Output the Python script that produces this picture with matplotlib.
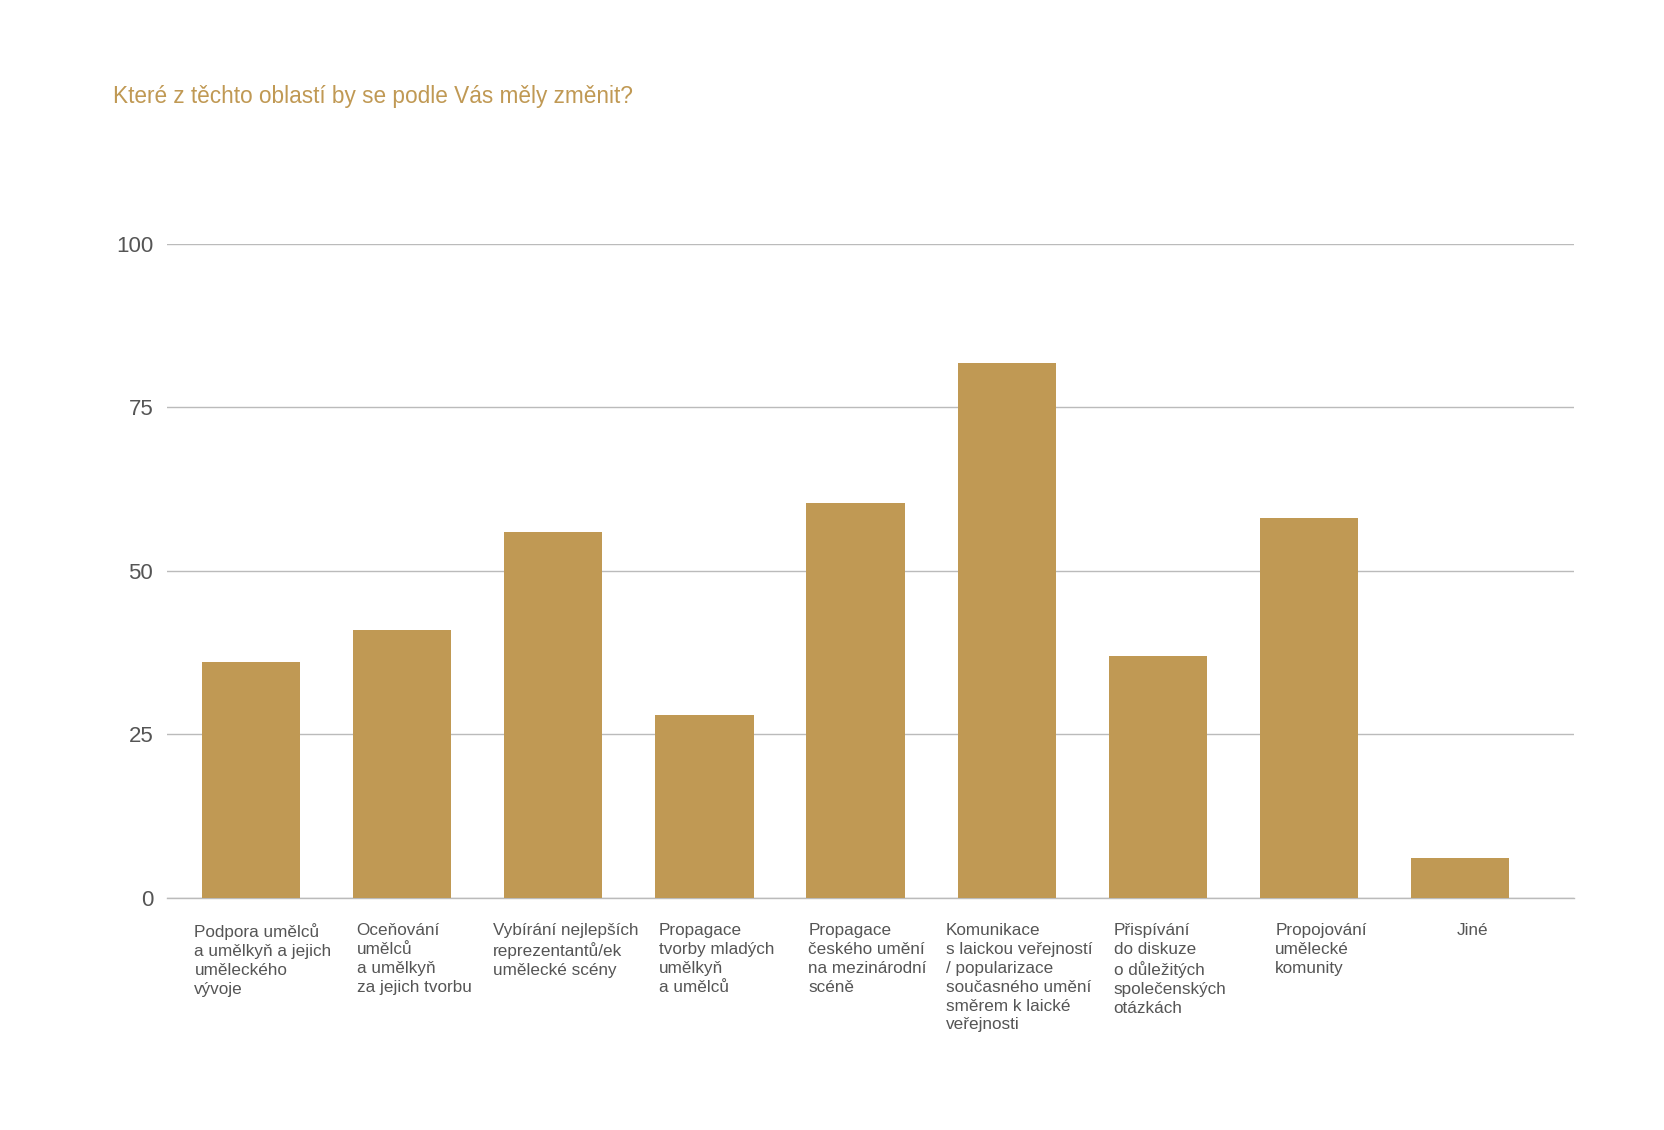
import numpy as np
import matplotlib
matplotlib.use("Agg")
import matplotlib.pyplot as plt
import matplotlib.transforms as mtransforms

plt.rcParams['font.family'] = ['Liberation Sans', 'DejaVu Sans']

categories = [
    "Podpora umělců\na umělkyň a jejich\numěleckého\nvývoje",
    "Oceňování\numělců\na umělkyň\nza jejich tvorbu",
    "Vybírání nejlepších\nreprezentantů/ek\numělecké scény",
    "Propagace\ntvorby mladých\numělkyň\na umělců",
    "Propagace\nčeského umění\nna mezinárodní\nscéně",
    "Komunikace\ns laickou veřejností\n/ popularizace\nsoučasného umění\nsměrem k laické\nveřejnosti",
    "Přispívání\ndo diskuze\no důležitých\nspolečenských\notázkách",
    "Propojování\numělecké\nkomunity",
    "Jiné",
]
values = [36, 41, 56, 28, 60.4, 81.8, 37, 58, 6]
yticks = [0, 25, 50, 75, 100]

gold = "#C09954"
text_gray = "#555555"

fig = plt.figure(figsize=(16.64, 11.3), dpi=100)
ax = fig.add_axes([0.1004, 0.2056, 0.8453, 0.5786])

x = np.arange(len(categories))
ax.bar(x, values, width=0.65, color=gold, zorder=3)

ax.set_xlim(-0.555, 8.75)
ax.set_ylim(0, 100)
ax.set_yticks(yticks)
ax.set_yticklabels([str(v) for v in yticks], fontsize=16, color=text_gray)
ax.grid(axis='y', color="#bbbbbb", linewidth=1, zorder=0)
ax.axhline(0, color="#bbbbbb", linewidth=1, zorder=2, clip_on=False)
ax.tick_params(axis='y', length=0, pad=10)
ax.tick_params(axis='x', length=0, pad=18)
for s in ax.spines.values():
    s.set_visible(False)

ax.set_xticks(x)
ax.set_xticklabels(categories, fontsize=12.3, color=text_gray,
                   ha='center', va='top', multialignment='left', linespacing=1.33)
shift = mtransforms.ScaledTranslation(12 / 100, 0, fig.dpi_scale_trans)
for lab in ax.get_xticklabels():
    lab.set_transform(lab.get_transform() + shift)

fig.text(113 / 1664, 1 - 96 / 1130, "Které z těchto oblastí by se podle Vás měly změnit?",
         fontsize=16.3, color=gold, ha='left', va='center')

fig.savefig("out.png", dpi=100, facecolor="white")
